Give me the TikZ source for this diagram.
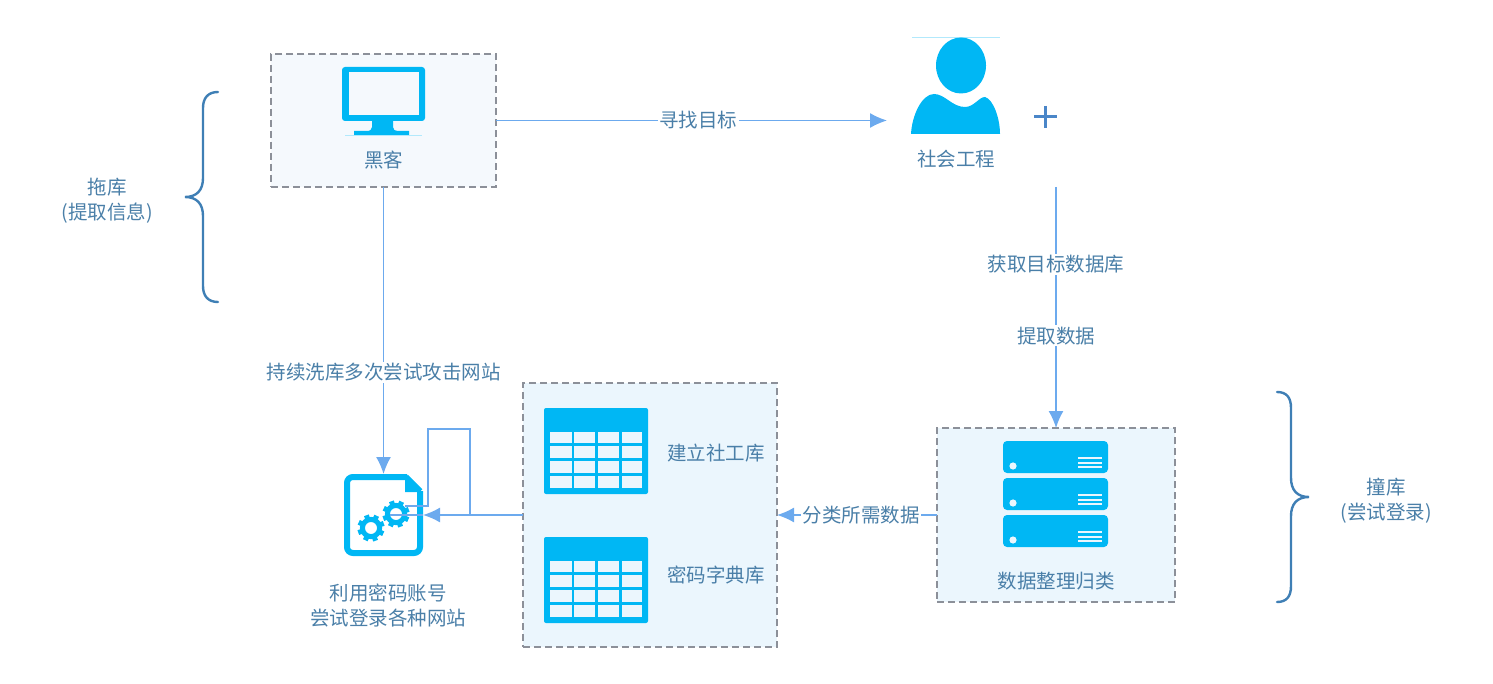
\documentclass[tikz,border=0pt]{standalone}
\usepackage{fontspec}
\setmainfont{Noto Sans CJK SC}
\usetikzlibrary{arrows.meta}
\definecolor{iconblue}{HTML}{00B7F4}
\definecolor{textblue}{HTML}{4A7FA8}
\definecolor{linkblue}{HTML}{6CAAEE}
\definecolor{bracecol}{HTML}{3F7FB5}
\definecolor{pluscol}{HTML}{4A86C8}
\definecolor{dashgray}{HTML}{8C9099}
\definecolor{paneA}{HTML}{F5F9FD}
\definecolor{paneB}{HTML}{EBF6FD}
\tikzset{
  pane/.style={draw=dashgray, dashed, dash pattern=on 7pt off 4pt, line width=1.2pt, outer sep=0pt, inner sep=0pt},
  txt/.style={text=textblue, font=\fontsize{19.5pt}{25pt}\selectfont, align=center, inner sep=1pt},
  lbl/.style={txt, fill=white, inner sep=1.5pt},
  link/.style={draw=linkblue, line width=1.4pt},
  tip/.style={link, -{Latex[length=17pt,width=15pt]}},
  bracket/.style={draw=bracecol, line width=2.4pt, line cap=round},
  tablepic/.pic={ % 表のアイコン
    \fill[iconblue, rounded corners=2pt] (0,0) rectangle (104,86);
    \foreach \cx/\cw in {6/22,30/21,54/21,78/20}
      \foreach \cy/\ch in {24/11,38/12,53/12,68/12}
        \fill[paneB] (\cx,\cy) rectangle ++(\cw,\ch);
  },
  unitpic/.pic={ % サーバ一段
    \fill[iconblue, rounded corners=4pt] (0,0) rectangle (105,32);
    \fill[paneB] (10,25) circle (3.6);
    \foreach \ly in {17,22,26}
      \draw[paneB, line width=1.8pt] (75,\ly) -- (99,\ly);
  },
  gearpic/.pic={ % 歯車
    \draw[iconblue, line width=5pt] (0,0) circle (8.6);
    \foreach \a in {0,45,...,315}
      \draw[iconblue, line width=5pt, rotate=\a+20] (10,0) -- (13.5,0);
  }
}

\begin{document}
\begin{tikzpicture}[x=1pt, y=-1pt]
  \useasboundingbox (0,0) rectangle (1493,684); % 全体の大きさ

  \node[pane, fill=paneA, minimum width=225pt, minimum height=133pt] (hacker) at (383.5,120.5) {}; % 枠
  \node[pane, fill=paneB, minimum width=254pt, minimum height=264pt] (store) at (650,515) {};
  \node[pane, fill=paneB, minimum width=238pt, minimum height=174pt] (sorted) at (1056,515) {};
  \node[minimum width=79pt, minimum height=82pt, inner sep=0pt, outer sep=0pt] (doc) at (383.5,515) {};

  % モニタ
  \fill[iconblue, rounded corners=3pt] (342,67) rectangle (425,121);
  \fill[paneA] (349,72) rectangle (419,115);
  \fill[iconblue] (372,121) -- (393,121) -- (393,127) .. controls (393,130) and (395,131) .. (398,131) -- (409,131) -- (409,136) -- (354,136) -- (354,131) -- (366,131) .. controls (370,131) and (372,130) .. (372,127) -- cycle;
  \draw[iconblue!30, line width=0.6pt] (345,135.8) -- (422,135.8);

  % 人物
  \draw[iconblue!30, line width=0.6pt] (912,37) -- (1000,37);
  \fill[iconblue] (961,65.5) ellipse (25 and 28);
  \fill[iconblue] (911,134) .. controls (912,115) and (922,94) .. (934,94) .. controls (945,94) and (952,107) .. (965,107) .. controls (974,107) and (979,97) .. (985,97) .. controls (993,99) and (1000,118) .. (1000,134) -- cycle;
  \draw[color=pluscol, line width=3pt] (1034,117) -- (1057,117) (1045.5,106) -- (1045.5,128);

  % 書類
  \draw[iconblue, line width=6pt, rounded corners=6pt] (407,477) -- (347,477) -- (347,553) -- (420,553) -- (420,491);
  \draw[iconblue, line width=5pt] (406,476.5) -- (420.5,491);
  \fill[iconblue] (405,476) -- (405,492) -- (421,492) -- cycle;
  \pic at (396,514) {gearpic};
  \pic at (371,528) {gearpic};

  \pic at (544,408) {tablepic};
  \pic at (544,537) {tablepic};
  \foreach \uy in {441,478,515}
    \pic at (1003,\uy) {unitpic};

  \coordinate (goal) at (887,120.5); % 矢印の端
  \coordinate (source) at (1056,187);
  \coordinate (gearend) at (390,515);
  \coordinate (loopin) at (470,515);
  \coordinate (looptop) at (428,429);
  \coordinate (loopend) at (405,506);

  \draw[tip] (hacker.east) -- (goal) node[lbl, pos=.517] (findlbl) {寻找目标};
  \draw[tip] (source) -- (sorted.north)
    node[lbl, pos=.32] (getlbl) {获取目标数据库}
    node[lbl, pos=.618] (pulllbl) {提取数据};
  \draw[tip] (hacker.south) -- (doc.north) node[lbl, pos=.645] (trylbl) {持续洗库多次尝试攻击网站};
  \draw[tip] (sorted.west) -- (store.east) node[lbl, pos=.475] (sortlbl) {分类所需数据};
  \draw[tip] (store.west) -- (doc.east);
  \draw[link] (doc.east) -- (gearend);
  \draw[link] (loopin) |- (looptop) |- (loopend); % 折れ線

  \node[txt] (hackertxt) at (383.5,160.5) {黑客};
  \node[txt] (socialtxt) at (956,159.5) {社会工程};
  \node[txt] (sortedtxt) at (1056,581.5) {数据整理归类};
  \node[txt] (socialdb) at (716,453.5) {建立社工库};
  \node[txt] (passdb) at (716,575.5) {密码字典库};
  \node[txt] (doctxt) at (388,606) {利用密码账号\\尝试登录各种网站};
  \node[txt] (draglbl) at (107,200.5) {拖库\\(提取信息)};
  \node[txt] (hitlbl) at (1386,500.5) {撞库\\(尝试登录)};

  % 括弧
  \draw[bracket] (218,92) .. controls (208,92) and (203,98) .. (203,108) -- (203,178) .. controls (203,190) and (197,197) .. (185,197) .. controls (197,197) and (203,204) .. (203,216) -- (203,286) .. controls (203,296) and (208,302) .. (218,302);
  \draw[bracket] (1277,392) .. controls (1287,392) and (1291,398) .. (1291,408) -- (1291,478) .. controls (1291,490) and (1297,497) .. (1309,497) .. controls (1297,497) and (1291,504) .. (1291,516) -- (1291,586) .. controls (1291,596) and (1287,602) .. (1277,602);
\end{tikzpicture}
\end{document}
